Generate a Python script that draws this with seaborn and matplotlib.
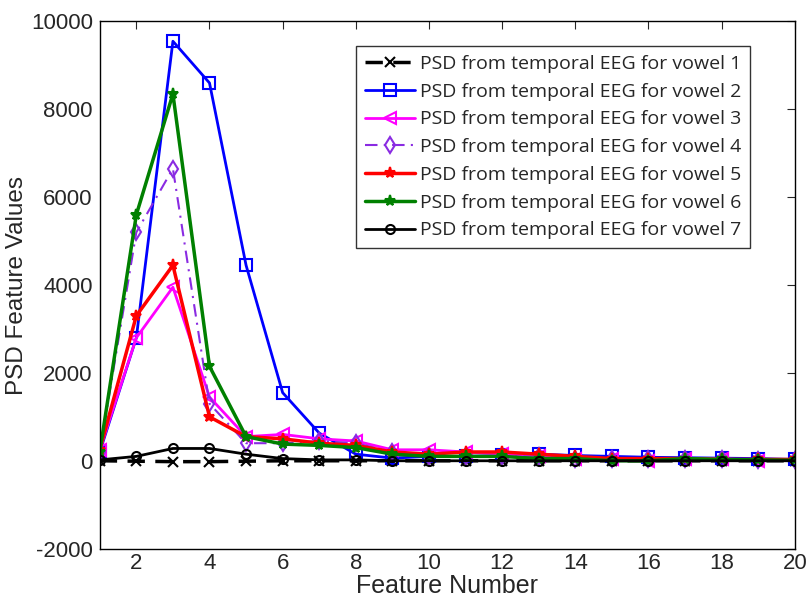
import numpy as np
import pandas as pd
import seaborn as sns
import matplotlib.pyplot as plt

# feature index 1..20
features = list(range(1, 21))

# PSD values (one list per vowel)
vowel1 = [0, -10, -20, -20, -10, 0, 0, 0, 0, 0, 0, 0, 0, 0, 0, 0, 0, 0, 0, 0]
vowel2 = [200, 2800, 9550, 8600, 4450, 1550, 630, 150, 60, 100, 100, 120, 150, 120, 100, 80, 70, 60, 50, 30]
vowel3 = [250, 2800, 3950, 1450, 550, 600, 500, 450, 250, 250, 200, 150, 100, 50, 50, 0, 50, 50, 0, 30]
vowel4 = [200, 5200, 6650, 1300, 400, 400, 450, 400, 200, 100, 100, 100, 100, 50, 50, 30, 30, 30, 20, 20]
vowel5 = [250, 3300, 4450, 1000, 550, 500, 400, 350, 200, 150, 200, 200, 150, 100, 50, 50, 50, 30, 30, 30]
vowel6 = [200, 5600, 8350, 2150, 550, 380, 350, 300, 150, 100, 100, 100, 50, 50, 0, 0, 50, 30, 20, 10]
vowel7 = [20, 100, 280, 280, 150, 50, 20, 20, 0, 0, 0, 0, 0, 0, 0, 0, 0, 0, 0, 0]

labels = [f"PSD from temporal EEG for vowel {i}" for i in range(1, 8)]
series = [vowel1, vowel2, vowel3, vowel4, vowel5, vowel6, vowel7]
colors = ["black", "#0000ff", "#ff00ff", "#8a2be2", "#ff0000", "#008000", "black"]
markers = ["x", "s", "<", "d", "*", "*", "o"]
dashes = [(5, 3), "", "", (6, 3, 1, 3), "", "", ""]
widths = [2.5, 2, 2, 1.5, 2.5, 2.5, 2]

sns.set_style("white")
plt.rcParams["font.family"] = ["Liberation Sans", "DejaVu Sans"]
plt.rcParams["axes.unicode_minus"] = False

fig, ax = plt.subplots(figsize=(8.11, 6.13), dpi=100)

for vals, lab, col, mk, ds, lw in zip(series, labels, colors, markers, dashes, widths):
    df = pd.DataFrame({"Feature": features, "PSD": vals})
    sns.lineplot(data=df, x="Feature", y="PSD", ax=ax, color=col, marker=mk,
                 markersize=8 if mk not in ("x", "o") else 6.5,
                 markerfacecolor="none" if mk in ("s", "<", "d", "o") else col,
                 markeredgecolor=col, markeredgewidth=1.5, linewidth=lw,
                 dashes=ds if ds else (None, None), label=lab)

ax.set_xlim(1, 20)
ax.set_ylim(-2000, 10000)
ax.set_xticks(range(2, 21, 2))
ax.set_yticks(range(-2000, 10001, 2000))
ax.tick_params(direction="in", top=True, right=True, labelsize=16, length=6, pad=5)
ax.tick_params(axis="x", pad=3)
for s in ax.spines.values():
    s.set_color("black")
    s.set_linewidth(1)
ax.set_xlabel("Feature Number", fontsize=18, labelpad=0)
ax.set_ylabel("PSD Feature Values", fontsize=17.5, labelpad=2)

leg = ax.legend(loc="upper right", bbox_to_anchor=(0.936, 0.953),
                frameon=True, fancybox=False, edgecolor="black",
                handlelength=2.6, handletextpad=0.25, labelspacing=0.5,
                borderpad=0.45, borderaxespad=0,
                prop={"family": ["Open Sans", "DejaVu Sans"], "size": 14})
leg.get_frame().set_linewidth(1)

fig.subplots_adjust(left=0.123, right=0.98, top=0.965, bottom=0.105)
fig.savefig("out.png", dpi=100)
